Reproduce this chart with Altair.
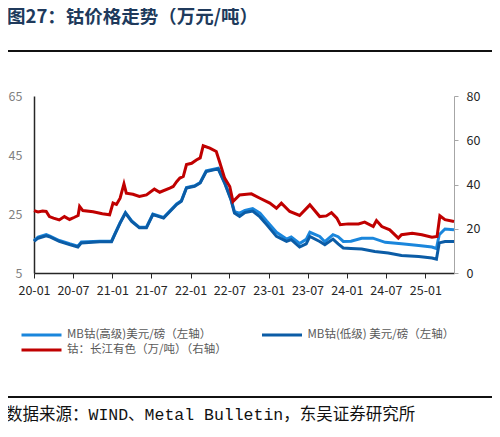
import altair as alt
import pandas as pd

TITLE = "图27：钴价格走势（万元/吨）"
SOURCE = "数据来源：WIND、Metal Bulletin，东吴证券研究所"

S_HI = "MB钴(高级)美元/磅（左轴）"
S_LO = "MB钴(低级) 美元/磅（左轴）"
S_CJ = "钴：长江有色（万/吨）（右轴）"

# MB 钴(低级) 美元/磅
lo_dates = [
    "2020-01-01", "2020-01-20", "2020-02-27", "2020-03-13", "2020-04-28", "2020-06-15",
    "2020-07-24", "2020-08-09", "2020-11-03", "2020-12-28", "2021-01-12", "2021-02-06",
    "2021-03-03", "2021-04-01", "2021-05-07", "2021-06-09", "2021-07-09", "2021-08-28",
    "2021-10-28", "2021-11-19", "2021-12-13", "2022-01-20", "2022-02-15", "2022-03-15",
    "2022-05-10", "2022-06-09", "2022-07-09", "2022-07-25", "2022-08-18", "2022-09-12",
    "2022-10-18", "2022-11-21", "2022-12-22", "2023-02-06", "2023-03-25", "2023-04-16",
    "2023-05-25", "2023-06-25", "2023-07-12", "2023-08-27", "2023-09-20", "2023-10-28",
    "2023-11-21", "2023-12-15", "2024-01-20", "2024-03-10", "2024-05-10", "2024-07-12",
    "2024-09-12", "2024-12-01", "2025-02-01", "2025-02-22", "2025-03-07", "2025-04-03",
    "2025-05-15",
]
lo_values = [
    15.7, 16.8, 17.6, 17.3, 15.7, 14.6,
    13.8, 15.2, 15.6, 15.6, 18.0, 21.9,
    25.3, 22.5, 20.3, 20.3, 24.8, 23.6,
    28.2, 29.3, 33.8, 34.4, 35.5, 39.4,
    40.3, 35.5, 29.8, 25.3, 24.2, 25.5,
    26.0, 24.0, 21.4, 17.4, 15.7, 16.3,
    13.8, 14.9, 17.4, 15.7, 14.6, 16.5,
    14.9, 13.5, 13.3, 13.1, 12.3, 11.8,
    10.9, 10.6, 10.1, 9.7, 15.2, 15.7,
    15.7,
]

# MB 钴(高级) 美元/磅
hi_dates = [
    "2020-01-01", "2020-01-20", "2020-02-27", "2020-03-13", "2020-04-28", "2020-06-15",
    "2020-07-24", "2020-08-09", "2020-11-03", "2020-12-28", "2021-01-12", "2021-02-06",
    "2021-03-03", "2021-04-01", "2021-05-07", "2021-06-09", "2021-07-09", "2021-08-28",
    "2021-10-28", "2021-11-19", "2021-12-13", "2022-01-20", "2022-02-15", "2022-03-15",
    "2022-05-10", "2022-06-09", "2022-07-09", "2022-07-25", "2022-08-18", "2022-09-12",
    "2022-10-18", "2022-11-21", "2022-12-22", "2023-02-06", "2023-03-25", "2023-04-16",
    "2023-05-25", "2023-06-25", "2023-07-12", "2023-08-27", "2023-09-20", "2023-10-28",
    "2023-11-21", "2023-12-15", "2024-01-20", "2024-03-10", "2024-05-01", "2024-06-28",
    "2024-09-12", "2024-12-01", "2025-02-01", "2025-02-22", "2025-03-07", "2025-04-03",
    "2025-05-15",
]
hi_values = [
    16.0, 17.2, 18.0, 17.6, 16.0, 14.9,
    14.1, 15.5, 15.8, 15.8, 18.2, 22.1,
    25.5, 22.7, 20.5, 20.5, 25.0, 23.8,
    28.4, 29.5, 34.0, 34.6, 35.7, 39.6,
    40.5, 35.7, 30.0, 25.8, 25.3, 26.2,
    26.8, 25.3, 22.6, 18.8, 16.5, 17.2,
    15.0, 16.4, 18.8, 17.4, 15.6, 18.0,
    17.3, 15.7, 15.8, 16.8, 16.8, 15.4,
    14.9, 14.3, 13.8, 13.3, 18.0, 19.9,
    19.7,
]

# 钴：长江有色 万元/吨
cj_dates = [
    "2020-01-01", "2020-01-20", "2020-02-10", "2020-02-27", "2020-03-13", "2020-04-01",
    "2020-04-28", "2020-05-22", "2020-06-15", "2020-07-08", "2020-07-25", "2020-08-01",
    "2020-08-16", "2020-10-03", "2020-11-15", "2020-12-19", "2021-01-04", "2021-01-20",
    "2021-02-06", "2021-02-24", "2021-03-07", "2021-04-07", "2021-05-07", "2021-06-09",
    "2021-07-16", "2021-08-10", "2021-09-26", "2021-10-12", "2021-10-28", "2021-11-12",
    "2021-11-28", "2021-12-13", "2022-01-06", "2022-01-28", "2022-02-15", "2022-03-01",
    "2022-04-01", "2022-05-01", "2022-05-16", "2022-06-09", "2022-07-03", "2022-07-18",
    "2022-08-18", "2022-10-12", "2022-11-21", "2023-01-06", "2023-02-06", "2023-03-01",
    "2023-04-09", "2023-05-25", "2023-07-12", "2023-08-27", "2023-09-27", "2023-10-21",
    "2023-11-15", "2023-12-01", "2024-01-07", "2024-02-24", "2024-03-24", "2024-05-03",
    "2024-05-18", "2024-06-12", "2024-07-19", "2024-08-28", "2024-09-12", "2024-11-01",
    "2024-12-16", "2025-02-01", "2025-02-25", "2025-03-10", "2025-04-03", "2025-05-15",
]
cj_values = [
    28.2, 27.6, 28.0, 27.8, 25.5, 24.8,
    24.0, 25.5, 24.2, 25.2, 26.0, 30.1,
    28.2, 27.7, 26.8, 26.3, 31.6, 31.0,
    33.8, 40.3, 36.1, 35.6, 34.6, 35.3,
    37.9, 36.5, 38.4, 39.1, 41.3, 42.9,
    43.6, 49.0, 49.6, 51.1, 52.0, 57.5,
    56.4, 54.9, 50.4, 42.9, 39.1, 32.3,
    35.3, 35.8, 33.8, 31.6, 29.3, 31.6,
    27.8, 26.0, 30.8, 25.5, 25.8, 27.3,
    24.8, 21.8, 22.2, 22.2, 23.0, 21.0,
    23.7, 21.0, 19.5, 15.8, 17.3, 18.0,
    17.3, 16.2, 16.5, 25.9, 24.1, 23.3,
]

tick_dates = ["2020-01", "2020-07", "2021-01", "2021-07", "2022-01", "2022-07",
              "2023-01", "2023-07", "2024-01", "2024-07", "2025-01"]
left_ticks = [5, 25, 45, 65]
right_ticks = [0, 20, 40, 60, 80]

blue = pd.concat([
    pd.DataFrame({"date": pd.to_datetime(hi_dates), "value": hi_values, "series": S_HI}),
    pd.DataFrame({"date": pd.to_datetime(lo_dates), "value": lo_values, "series": S_LO}),
])
red = pd.DataFrame({"date": pd.to_datetime(cj_dates), "value": cj_values, "series": S_CJ})

FONT = "Noto Sans CJK SC"


def dt(s):
    y, m = s.split("-")[:2]
    return alt.DateTime(year=int(y), month=int(m), date=1)


x_scale = alt.Scale(domain=[dt("2020-01"), alt.DateTime(year=2025, month=5, date=15)])
x_axis = alt.Axis(values=[dt(t) for t in tick_dates], format="%y-%m", title=None,
                  domainColor="#262626", domainWidth=1.3, tickColor="#262626",
                  tickSize=5, labelPadding=6, labelFontSize=12.5, labelColor="#262626",
                  labelFont=FONT, grid=False, labelFlush=False)

colors = alt.Scale(domain=[S_HI, S_LO, S_CJ], range=["#1a86dc", "#0b5ca6", "#c00000"])
# a 40px stroke drawn in a 15px legend slot, so the rows stay tight
legend = alt.Legend(orient="none", legendX=-1.5, legendY=230, columns=2, direction="horizontal",
                    title=None, symbolType="M-2.667,0H2.667", symbolSize=225,
                    symbolStrokeWidth=3, labelFontSize=11.5, labelColor="#595959",
                    labelFont=FONT, labelLimit=400, labelOffset=16.5,
                    columnPadding=27.5, rowPadding=0)

blue_lines = alt.Chart(blue).mark_line(strokeWidth=3).encode(
    x=alt.X("date:T", scale=x_scale, axis=x_axis),
    y=alt.Y("value:Q", scale=alt.Scale(domain=[5, 65]),
            axis=alt.Axis(orient="left", values=left_ticks, title=None, ticks=False,
                          domainColor="#262626", domainWidth=1.5, labelPadding=12,
                          labelColor="#7f7f7f", labelFontSize=12.5, labelFont=FONT,
                          grid=False)),
    color=alt.Color("series:N", scale=colors, legend=legend),
)

red_line = alt.Chart(red).mark_line(strokeWidth=3).encode(
    x=alt.X("date:T", scale=x_scale, axis=x_axis),
    y=alt.Y("value:Q", scale=alt.Scale(domain=[0, 80]),
            axis=alt.Axis(orient="right", values=right_ticks, title=None,
                          domainColor="#a6a6a6", tickColor="#a6a6a6", tickSize=4,
                          labelPadding=8, labelColor="#262626", labelFontSize=12.5,
                          labelFont=FONT, grid=False)),
    color=alt.Color("series:N", scale=colors, legend=legend),
)

one = pd.DataFrame({"t": [TITLE], "s": [SOURCE]})

title = alt.Chart(one).mark_text(
    align="left", baseline="middle", font=FONT, fontSize=18.5, fontWeight="bold",
    color="#203a5c"
).encode(text="t:N", x=alt.value(-27), y=alt.value(-79))

top_rule = alt.Chart(one).mark_rule(color="#111111", strokeWidth=2).encode(
    x=alt.value(-29), x2=alt.value(461), y=alt.value(-45))
bottom_rule = alt.Chart(one).mark_rule(color="#111111", strokeWidth=2).encode(
    x=alt.value(-29), x2=alt.value(461), y=alt.value(301))

source = alt.Chart(one).mark_text(
    align="left", baseline="middle", font="Liberation Mono, Noto Sans CJK SC",
    fontSize=16.5, color="#111111"
).encode(text="s:N", x=alt.value(-28), y=alt.value(319))

chart = alt.layer(blue_lines, red_line, title, top_rule, bottom_rule, source).resolve_scale(
    y="independent"
).properties(
    width=420, height=177,
    autosize=alt.AutoSizeParams(type="none"),
    padding={"left": 26, "top": 88, "right": 38, "bottom": 156},
).configure_view(stroke=None)

chart.save("out.html", embed_options={"renderer": "svg", "actions": False})
